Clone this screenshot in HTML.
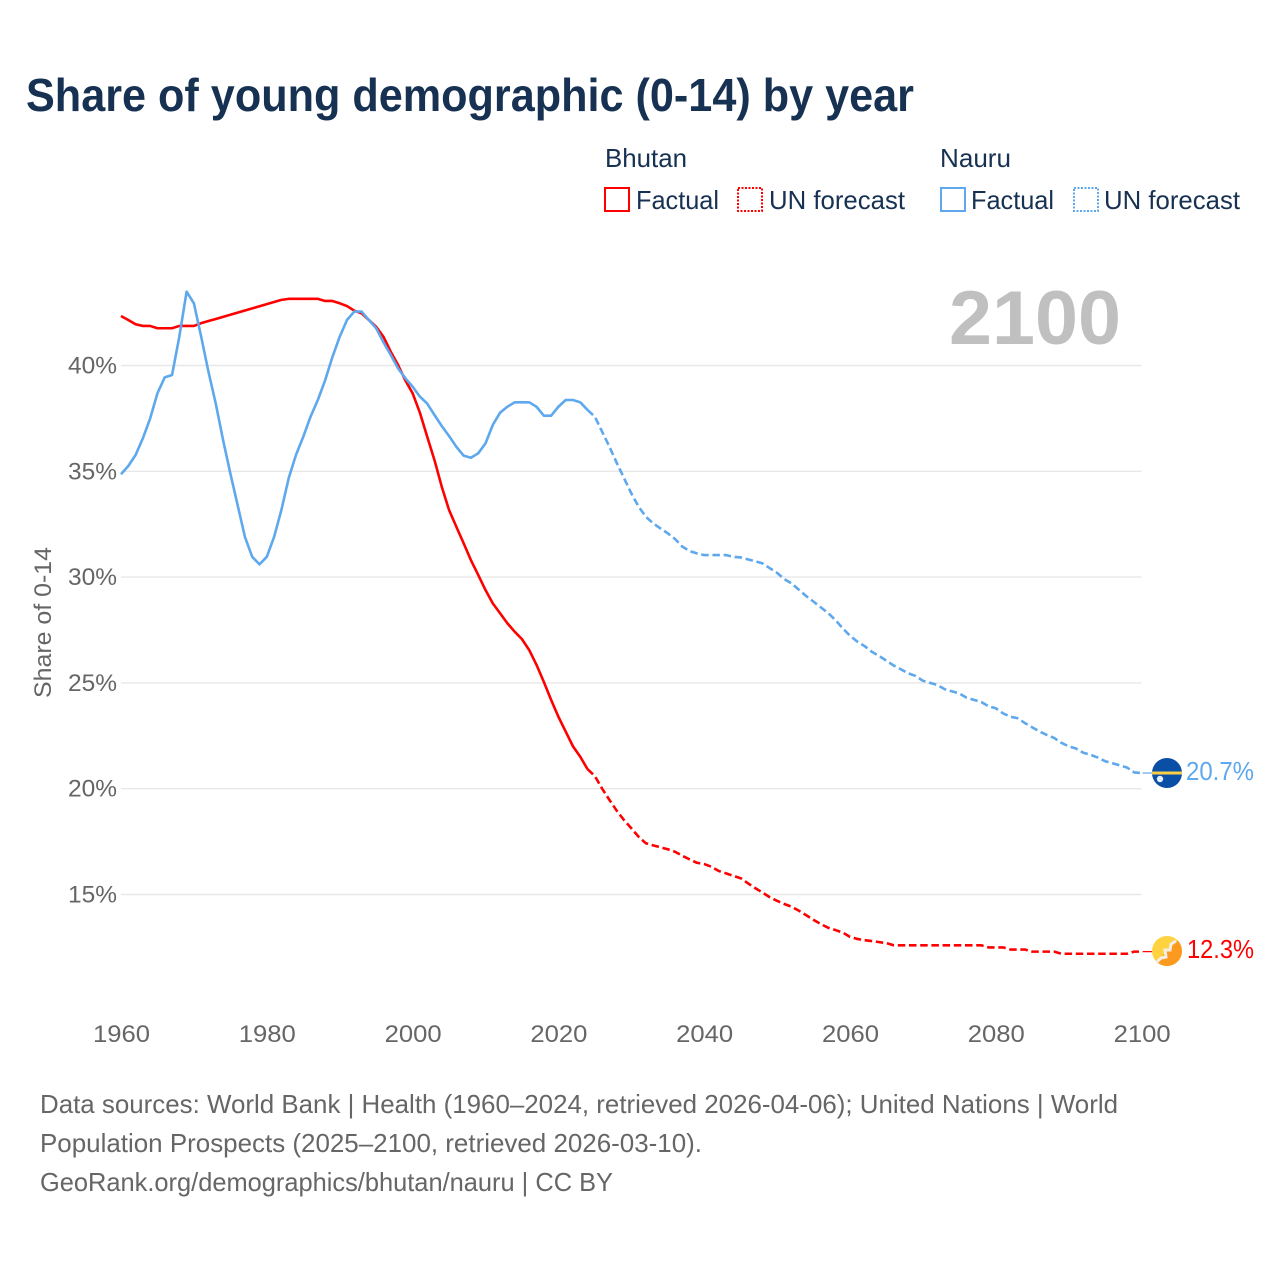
<!DOCTYPE html>
<html lang="en">
<head>
<meta charset="utf-8">
<title>Share of young demographic (0-14) by year</title>
<style>
html,body{margin:0;padding:0;background:#fff;}
svg{display:block;font-family:"Liberation Sans",sans-serif;}
</style>
</head>
<body>
<svg id="chart" width="1280" height="1280" viewBox="0 0 1280 1280" xmlns="http://www.w3.org/2000/svg">
  <defs>
    <clipPath id="flag-clip-nauru"><circle cx="1167" cy="773" r="15"/></clipPath>
    <clipPath id="flag-clip-bhutan"><circle cx="1167" cy="951" r="15"/></clipPath>
  </defs>
  <rect x="0" y="0" width="1280" height="1280" fill="#ffffff"/>

  <text x="26" y="111" font-size="46" font-weight="700" fill="#173152" textLength="888" lengthAdjust="spacingAndGlyphs">Share of young demographic (0-14) by year</text>

  <g font-size="26" fill="#173152">
    <text x="605" y="167" textLength="82" lengthAdjust="spacingAndGlyphs">Bhutan</text>
    <text x="940" y="167" textLength="71" lengthAdjust="spacingAndGlyphs">Nauru</text>
    <rect x="605" y="188" width="24" height="23" fill="none" stroke="#ff0000" stroke-width="2"/>
    <text x="636" y="209" textLength="83" lengthAdjust="spacingAndGlyphs">Factual</text>
    <rect x="738" y="188" width="24" height="23" fill="none" stroke="#ff0000" stroke-width="2" stroke-dasharray="2 1.5"/>
    <text x="769" y="209" textLength="136" lengthAdjust="spacingAndGlyphs">UN forecast</text>
    <rect x="941" y="188" width="24" height="23" fill="none" stroke="#5ea8ee" stroke-width="2"/>
    <text x="971" y="209" textLength="83" lengthAdjust="spacingAndGlyphs">Factual</text>
    <rect x="1074" y="188" width="24" height="23" fill="none" stroke="#5ea8ee" stroke-width="2" stroke-dasharray="2 1.5"/>
    <text x="1104" y="209" textLength="136" lengthAdjust="spacingAndGlyphs">UN forecast</text>
  </g>

  <g id="grid"></g>
  <g id="yticks" font-size="24" fill="#666666"></g>
  <g id="xticks" font-size="24" fill="#666666"></g>

  <text transform="translate(51 698) rotate(-90)" font-size="24" fill="#666666" textLength="151" lengthAdjust="spacingAndGlyphs">Share of 0-14</text>

  <text x="949" y="344" font-size="76" font-weight="700" fill="#c0c0c0" textLength="172" lengthAdjust="spacingAndGlyphs">2100</text>

  <g id="series"></g>

  <g clip-path="url(#flag-clip-nauru)">
    <rect x="1152" y="758" width="30" height="30" fill="#0b4ea6"/>
    <rect x="1152" y="771.5" width="30" height="3" fill="#f9cf45"/>
    <circle cx="1160" cy="779" r="3.2" fill="#e8eef6"/>
  </g>
  <g clip-path="url(#flag-clip-bhutan)">
    <rect x="1152" y="936" width="30" height="30" fill="#ffd23f"/>
    <polygon points="1182,936 1182,966 1152,966" fill="#fb9a1e"/>
    <polyline points="1157,962 1161,958 1166,957 1165,950 1170,950 1171,944 1176,941" fill="none" stroke="#f4efe6" stroke-width="3"/>
  </g>

  <text x="1186" y="780" font-size="26" fill="#5ea8ee" textLength="68" lengthAdjust="spacingAndGlyphs">20.7%</text>
  <text x="1187" y="958" font-size="26" fill="#ff0000" textLength="67" lengthAdjust="spacingAndGlyphs">12.3%</text>

  <g font-size="26" fill="#666666">
    <text x="40" y="1113" textLength="1078" lengthAdjust="spacingAndGlyphs">Data sources: World Bank | Health (1960–2024, retrieved 2026-04-06); United Nations | World</text>
    <text x="40" y="1152" textLength="662" lengthAdjust="spacingAndGlyphs">Population Prospects (2025–2100, retrieved 2026-03-10).</text>
    <text x="40" y="1191" textLength="573" lengthAdjust="spacingAndGlyphs">GeoRank.org/demographics/bhutan/nauru | CC BY</text>
  </g>
</svg>

<script>
const yTickValues = [15, 20, 25, 30, 35, 40];
const xTickYears = [1960, 1980, 2000, 2020, 2040, 2060, 2080, 2100];

const factualStartYear = 1960;
const forecastStartYear = 2024;

const bhutanFactual = [
  42.34,42.15,41.95,41.87,41.87,41.76,41.76,41.76,41.87,41.87,
  41.87,42.0,42.1,42.2,42.3,42.4,42.5,42.6,42.7,42.8,
  42.9,43.0,43.1,43.15,43.15,43.15,43.15,43.15,43.05,43.05,
  42.94,42.81,42.59,42.47,42.15,41.83,41.36,40.65,40.03,39.3,
  38.69,37.77,36.64,35.53,34.27,33.17,32.38,31.6,30.8,30.1,
  29.39,28.76,28.29,27.82,27.42,27.07,26.55,25.85,25.05,24.2,
  23.4,22.7,22.0,21.51,20.92
];
const bhutanForecast = [
  20.92,
  20.6,20.0,19.47,18.96,18.52,
  18.13,17.73,17.42,17.32,17.23,17.14,17.02,16.83,16.66,16.5,
  16.44,16.31,16.11,16.0,15.88,15.77,15.53,15.3,15.09,14.87,
  14.7,14.55,14.42,14.23,14.02,13.8,13.6,13.43,13.32,13.2,
  13.0,12.9,12.84,12.8,12.75,12.7,12.6,12.6,12.6,12.6,
  12.6,12.6,12.6,12.6,12.6,12.6,12.6,12.6,12.6,12.5,
  12.5,12.5,12.4,12.4,12.4,12.3,12.3,12.3,12.3,12.2,
  12.2,12.2,12.2,12.2,12.2,12.2,12.2,12.2,12.2,12.3,
  12.3
];
const nauruFactual = [
  34.86,35.25,35.77,36.56,37.5,38.69,39.44,39.55,41.36,43.49,
  42.94,41.36,39.7,38.2,36.48,34.9,33.4,31.9,30.96,30.6,
  30.96,31.9,33.17,34.67,35.77,36.63,37.58,38.37,39.3,40.4,
  41.36,42.15,42.55,42.55,42.15,41.76,41.1,40.5,39.87,39.4,
  39.0,38.53,38.2,37.66,37.14,36.67,36.16,35.74,35.64,35.85,
  36.32,37.19,37.77,38.05,38.26,38.26,38.26,38.05,37.63,37.63,
  38.05,38.37,38.37,38.26,37.9
];
const nauruForecast = [
  37.9,
  37.58,36.87,36.16,35.4,34.68,
  33.96,33.33,32.85,32.54,32.3,32.07,31.8,31.44,31.23,31.12,
  31.04,31.04,31.04,31.04,30.96,30.93,30.84,30.75,30.65,30.42,
  30.2,29.9,29.7,29.4,29.1,28.84,28.57,28.3,27.97,27.58,
  27.23,26.95,26.74,26.47,26.27,26.05,25.82,25.64,25.45,25.33,
  25.1,25.0,24.9,24.7,24.6,24.5,24.3,24.2,24.1,23.9,
  23.8,23.56,23.4,23.33,23.1,22.9,22.7,22.54,22.4,22.17,
  22.0,21.9,21.7,21.6,21.47,21.3,21.2,21.1,21.0,20.77,
  20.74
];

const NS = 'http://www.w3.org/2000/svg';
const xScale = year => 121 + (year - 1960) * (1141.6 - 121) / 140;
const yScale = value => 365.5 + (40 - value) * (894.5 - 365.5) / 25;

const gridGroup = document.getElementById('grid');
const yTickGroup = document.getElementById('yticks');
yTickValues.forEach(v => {
  const line = document.createElementNS(NS, 'line');
  
  
  line.setAttribute('x1', xScale(1960));
  line.setAttribute('x2', xScale(2100));
  line.setAttribute('y1', yScale(v));
  line.setAttribute('y2', yScale(v));
  line.setAttribute('stroke', '#e8e8e8');
  line.setAttribute('stroke-width', '1.4');
  gridGroup.appendChild(line);
  const label = document.createElementNS(NS, 'text');
  
  
  label.setAttribute('x', 68);
  label.setAttribute('y', yScale(v) + 8);
  label.setAttribute('textLength', 49);
  label.setAttribute('lengthAdjust', 'spacingAndGlyphs');
  label.textContent = v + '%';
  yTickGroup.appendChild(label);
});

const xTickGroup = document.getElementById('xticks');
xTickYears.forEach(y => {
  const label = document.createElementNS(NS, 'text');
  
  
  label.setAttribute('x', xScale(y) - 28);
  label.setAttribute('y', 1042);
  label.setAttribute('textLength', 57);
  label.setAttribute('lengthAdjust', 'spacingAndGlyphs');
  label.textContent = y;
  xTickGroup.appendChild(label);
});

const seriesGroup = document.getElementById('series');
function linePath(values, startYear) {
  return values.map((v, i) => (i ? 'L' : 'M') + xScale(startYear + i).toFixed(2) + ' ' + yScale(v).toFixed(2)).join('');
}
function drawLine(name, values, startYear, color, dash) {
  const p = document.createElementNS(NS, 'path');
  
  
  p.setAttribute('d', linePath(values, startYear));
  p.setAttribute('fill', 'none');
  p.setAttribute('stroke', color);
  p.setAttribute('stroke-width', '2.6');
  p.setAttribute('stroke-linejoin', 'round');
  if (dash) p.setAttribute('stroke-dasharray', dash);
  seriesGroup.appendChild(p);
}
function drawConnector(name, value, color) {
  const c = document.createElementNS(NS, 'line');
  
  
  c.setAttribute('x1', xScale(2100) + 1);
  c.setAttribute('x2', 1152);
  c.setAttribute('y1', yScale(value));
  c.setAttribute('y2', yScale(value));
  c.setAttribute('stroke', color);
  c.setAttribute('stroke-width', '1.2');
  seriesGroup.appendChild(c);
}
drawLine('bhutan-factual-line', bhutanFactual, factualStartYear, '#ff0000', null);
drawLine('bhutan-forecast-line', bhutanForecast, forecastStartYear, '#ff0000', '7.5 3.7');
drawLine('nauru-factual-line', nauruFactual, factualStartYear, '#5ea8ee', null);
drawLine('nauru-forecast-line', nauruForecast, forecastStartYear, '#5ea8ee', '7.5 3.7');
drawConnector('bhutan-flag-connector', bhutanForecast[bhutanForecast.length - 1], '#ff0000');
drawConnector('nauru-flag-connector', nauruForecast[nauruForecast.length - 1], '#5ea8ee');
</script>
</body>
</html>
